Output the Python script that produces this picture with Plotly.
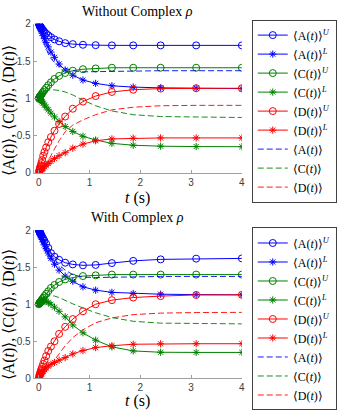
import plotly.graph_objects as go

# time samples (s) shared by all curves
t = [0, 0.011, 0.015, 0.019, 0.024, 0.031, 0.040, 0.052, 0.067, 0.087, 0.112, 0.145, 0.187,
     0.24, 0.31, 0.40, 0.52, 0.67, 0.87, 1.12, 1.44, 1.86, 2.40, 3.10, 4.00]

# --- without complex rho ---
a_up_1 = [2.0, 1.987, 1.982, 1.978, 1.973, 1.965, 1.955, 1.944, 1.929, 1.912, 1.891, 1.868, 1.845,
          1.82, 1.79, 1.765, 1.74, 1.727, 1.718, 1.713, 1.71, 1.71, 1.71, 1.71, 1.71]
a_lo_1 = [2.0, 1.978, 1.97, 1.963, 1.953, 1.94, 1.922, 1.90, 1.875, 1.84, 1.80, 1.75, 1.69,
          1.62, 1.55, 1.46, 1.38, 1.31, 1.245, 1.20, 1.168, 1.15, 1.14, 1.135, 1.13]
c_up_1 = [1.0, 1.01, 1.014, 1.018, 1.023, 1.03, 1.04, 1.052, 1.067, 1.087, 1.11, 1.14, 1.175,
          1.215, 1.26, 1.30, 1.34, 1.37, 1.39, 1.40, 1.41, 1.41, 1.41, 1.41, 1.41]
c_lo_1 = [1.0, 0.995, 0.993, 0.99, 0.987, 0.982, 0.975, 0.965, 0.952, 0.935, 0.91, 0.88, 0.845,
          0.80, 0.75, 0.69, 0.62, 0.555, 0.49, 0.44, 0.395, 0.37, 0.357, 0.352, 0.35]
d_up_1 = [0.0, 0.03, 0.04, 0.05, 0.063, 0.08, 0.10, 0.13, 0.17, 0.23, 0.28, 0.34, 0.41,
          0.48, 0.565, 0.655, 0.755, 0.86, 0.955, 1.03, 1.085, 1.115, 1.13, 1.135, 1.135]
d_lo_1 = [0.0, 0.008, 0.011, 0.014, 0.018, 0.023, 0.03, 0.038, 0.05, 0.063, 0.08, 0.10, 0.125,
          0.155, 0.19, 0.23, 0.27, 0.33, 0.385, 0.43, 0.455, 0.465, 0.468, 0.468, 0.468]
a_1 = [2.0, 1.966, 1.953, 1.94, 1.926, 1.905, 1.88, 1.848, 1.81, 1.765, 1.72, 1.66, 1.60,
       1.535, 1.48, 1.43, 1.40, 1.37, 1.355, 1.358, 1.362, 1.367, 1.37, 1.37, 1.37]
c_1 = [1.0, 1.012, 1.017, 1.021, 1.027, 1.034, 1.043, 1.054, 1.066, 1.08, 1.093, 1.105, 1.113,
       1.117, 1.115, 1.105, 1.085, 1.045, 0.975, 0.90, 0.83, 0.78, 0.755, 0.745, 0.742]
d_1 = [0.0, 0.002, 0.003, 0.005, 0.007, 0.011, 0.017, 0.026, 0.038, 0.055, 0.08, 0.115, 0.165,
       0.24, 0.32, 0.43, 0.55, 0.64, 0.71, 0.78, 0.845, 0.88, 0.90, 0.905, 0.905]

# --- with complex rho ---
a_up_2 = [2.0, 1.985, 1.98, 1.975, 1.968, 1.958, 1.946, 1.93, 1.91, 1.885, 1.855, 1.815, 1.76,
          1.69, 1.64, 1.60, 1.56, 1.537, 1.525, 1.53, 1.555, 1.585, 1.605, 1.615, 1.618]
a_lo_2 = [2.0, 1.978, 1.97, 1.963, 1.953, 1.94, 1.922, 1.90, 1.875, 1.84, 1.80, 1.75, 1.69,
          1.62, 1.54, 1.46, 1.38, 1.31, 1.235, 1.19, 1.16, 1.145, 1.135, 1.13, 1.127]
c_up_2 = [1.0, 1.01, 1.014, 1.018, 1.023, 1.03, 1.04, 1.052, 1.067, 1.087, 1.11, 1.14, 1.175,
          1.22, 1.26, 1.30, 1.335, 1.36, 1.38, 1.39, 1.40, 1.40, 1.40, 1.40, 1.40]
c_lo_2 = [1.0, 1.01, 1.013, 1.016, 1.02, 1.025, 1.03, 1.036, 1.04, 1.043, 1.044, 1.04, 1.025,
          1.0, 0.96, 0.905, 0.83, 0.72, 0.615, 0.515, 0.425, 0.37, 0.352, 0.35, 0.35]
d_up_2 = [0.0, 0.03, 0.04, 0.05, 0.062, 0.08, 0.10, 0.125, 0.155, 0.195, 0.24, 0.30, 0.37,
          0.43, 0.50, 0.60, 0.695, 0.80, 0.905, 1.0, 1.055, 1.09, 1.11, 1.125, 1.127]
d_lo_2 = [0.0, 0.015, 0.02, 0.025, 0.032, 0.04, 0.05, 0.062, 0.076, 0.095, 0.115, 0.14, 0.165,
          0.19, 0.215, 0.245, 0.28, 0.33, 0.375, 0.415, 0.44, 0.46, 0.466, 0.467, 0.467]
a_2 = [2.0, 1.966, 1.953, 1.94, 1.926, 1.905, 1.88, 1.85, 1.815, 1.775, 1.735, 1.685, 1.63,
       1.58, 1.55, 1.53, 1.46, 1.40, 1.365, 1.36, 1.365, 1.37, 1.375, 1.375, 1.375]
c_2 = [1.0, 1.012, 1.017, 1.021, 1.027, 1.034, 1.043, 1.054, 1.066, 1.08, 1.093, 1.105, 1.113,
       1.117, 1.11, 1.09, 1.05, 1.005, 0.95, 0.885, 0.82, 0.77, 0.745, 0.737, 0.735]
d_2 = [0.0, 0.001, 0.002, 0.003, 0.005, 0.008, 0.012, 0.02, 0.03, 0.045, 0.065, 0.095, 0.135,
       0.185, 0.255, 0.34, 0.44, 0.55, 0.655, 0.75, 0.815, 0.86, 0.88, 0.888, 0.89]

panel_titles = ["Without Complex <i>ρ</i>", "With Complex <i>ρ</i>"]
names = ["⟨A(<i>t</i>)⟩<sup><i>U</i></sup>", "⟨A(<i>t</i>)⟩<sup><i>L</i></sup>",
         "⟨C(<i>t</i>)⟩<sup><i>U</i></sup>", "⟨C(<i>t</i>)⟩<sup><i>L</i></sup>",
         "⟨D(<i>t</i>)⟩<sup><i>U</i></sup>", "⟨D(<i>t</i>)⟩<sup><i>L</i></sup>",
         "⟨A(<i>t</i>)⟩", "⟨C(<i>t</i>)⟩", "⟨D(<i>t</i>)⟩"]

BLUE, GREEN, RED = "#0000ff", "#008000", "#ff0000"
SERIF = "Liberation Serif"
SANS = "Liberation Sans"

panels = [
    [a_up_1, a_lo_1, c_up_1, c_lo_1, d_up_1, d_lo_1, a_1, c_1, d_1],
    [a_up_2, a_lo_2, c_up_2, c_lo_2, d_up_2, d_lo_2, a_2, c_2, d_2],
]
colors = [BLUE, BLUE, GREEN, GREEN, RED, RED, BLUE, GREEN, RED]
symbols = ["circle-open", "asterisk-open"] * 3
msizes = [7, 6] * 3

fig = go.Figure()
for p, series in enumerate(panels):
    xa = "x" if p == 0 else "x2"
    ya = "y" if p == 0 else "y2"
    lg = "legend" if p == 0 else "legend2"
    for i, y in enumerate(series):
        if i < 6:
            fig.add_trace(go.Scatter(
                x=t, y=y, mode="lines+markers", name=names[i], xaxis=xa, yaxis=ya, legend=lg,
                line=dict(color=colors[i], width=1),
                marker=dict(symbol=symbols[i], size=msizes[i], color=colors[i],
                            line=dict(width=1, color=colors[i]))))
        else:
            fig.add_trace(go.Scatter(
                x=t, y=y, mode="lines", name=names[i], xaxis=xa, yaxis=ya, legend=lg,
                line=dict(color=colors[i], width=0.9, dash="6px,3px")))

W, H = 342, 420
x0, x1 = 34 / W, 244 / W
dom_top = [1 - 171.7 / H, 1 - 18.3 / H]
dom_bot = [1 - 383.3 / H, 1 - 230.7 / H]

axis_common = dict(showgrid=False, zeroline=False, showline=True, linecolor="#a0a0a0", linewidth=1,
                   ticks="inside", ticklen=3, tickcolor="#a0a0a0", mirror=False,
                   tickfont=dict(family=SANS, size=10, color="#404040"))
xaxis_kw = dict(axis_common, range=[-0.1, 4], tickvals=[0, 1, 2, 3, 4], domain=[x0, x1])
yaxis_kw = dict(axis_common, range=[0, 2], tickvals=[0, 0.5, 1, 1.5, 2], ticktext=["0", "0.5", "1", "1.5", "2"])

legend_kw = dict(xanchor="left", yanchor="top", bgcolor="white", bordercolor="#404040", borderwidth=1,
                 font=dict(family=SERIF, size=12, color="black"), itemwidth=30, tracegroupgap=0)

fig.update_layout(
    width=W, height=H, margin=dict(l=0, r=0, t=0, b=0),
    paper_bgcolor="white", plot_bgcolor="white",
    xaxis=dict(xaxis_kw, anchor="y"),
    yaxis=dict(yaxis_kw, domain=dom_top, anchor="x"),
    xaxis2=dict(xaxis_kw, anchor="y2"),
    yaxis2=dict(yaxis_kw, domain=dom_bot, anchor="x2"),
    legend=dict(legend_kw, x=254 / W, y=1 - 14 / H),
    legend2=dict(legend_kw, x=254 / W, y=1 - 228 / H),
)

ylab = "⟨A(<i>t</i>)⟩, ⟨C(<i>t</i>)⟩, ⟨D(<i>t</i>)⟩"
cx = (x0 + x1) / 2
for title, ty, xl_y, yl_y in [(panel_titles[0], 6, 198, 108), (panel_titles[1], 218, 407, 318)]:
    fig.add_annotation(text=title, xref="paper", yref="paper", x=cx, y=1 - ty / H, showarrow=False,
                       font=dict(family=SERIF, size=14, color="black"), yanchor="middle")
    fig.add_annotation(text="<i>t</i> (s)", xref="paper", yref="paper", x=cx, y=1 - xl_y / H,
                       showarrow=False, font=dict(family=SERIF, size=16, color="black"), yanchor="middle")
    fig.add_annotation(text=ylab, xref="paper", yref="paper", x=8.5 / W, y=1 - yl_y / H, textangle=-90,
                       showarrow=False, font=dict(family=SERIF, size=16, color="black"),
                       xanchor="center", yanchor="middle")

fig.write_html("out.html", config={"displayModeBar": False},
               post_script="document.body.style.margin='0';")
